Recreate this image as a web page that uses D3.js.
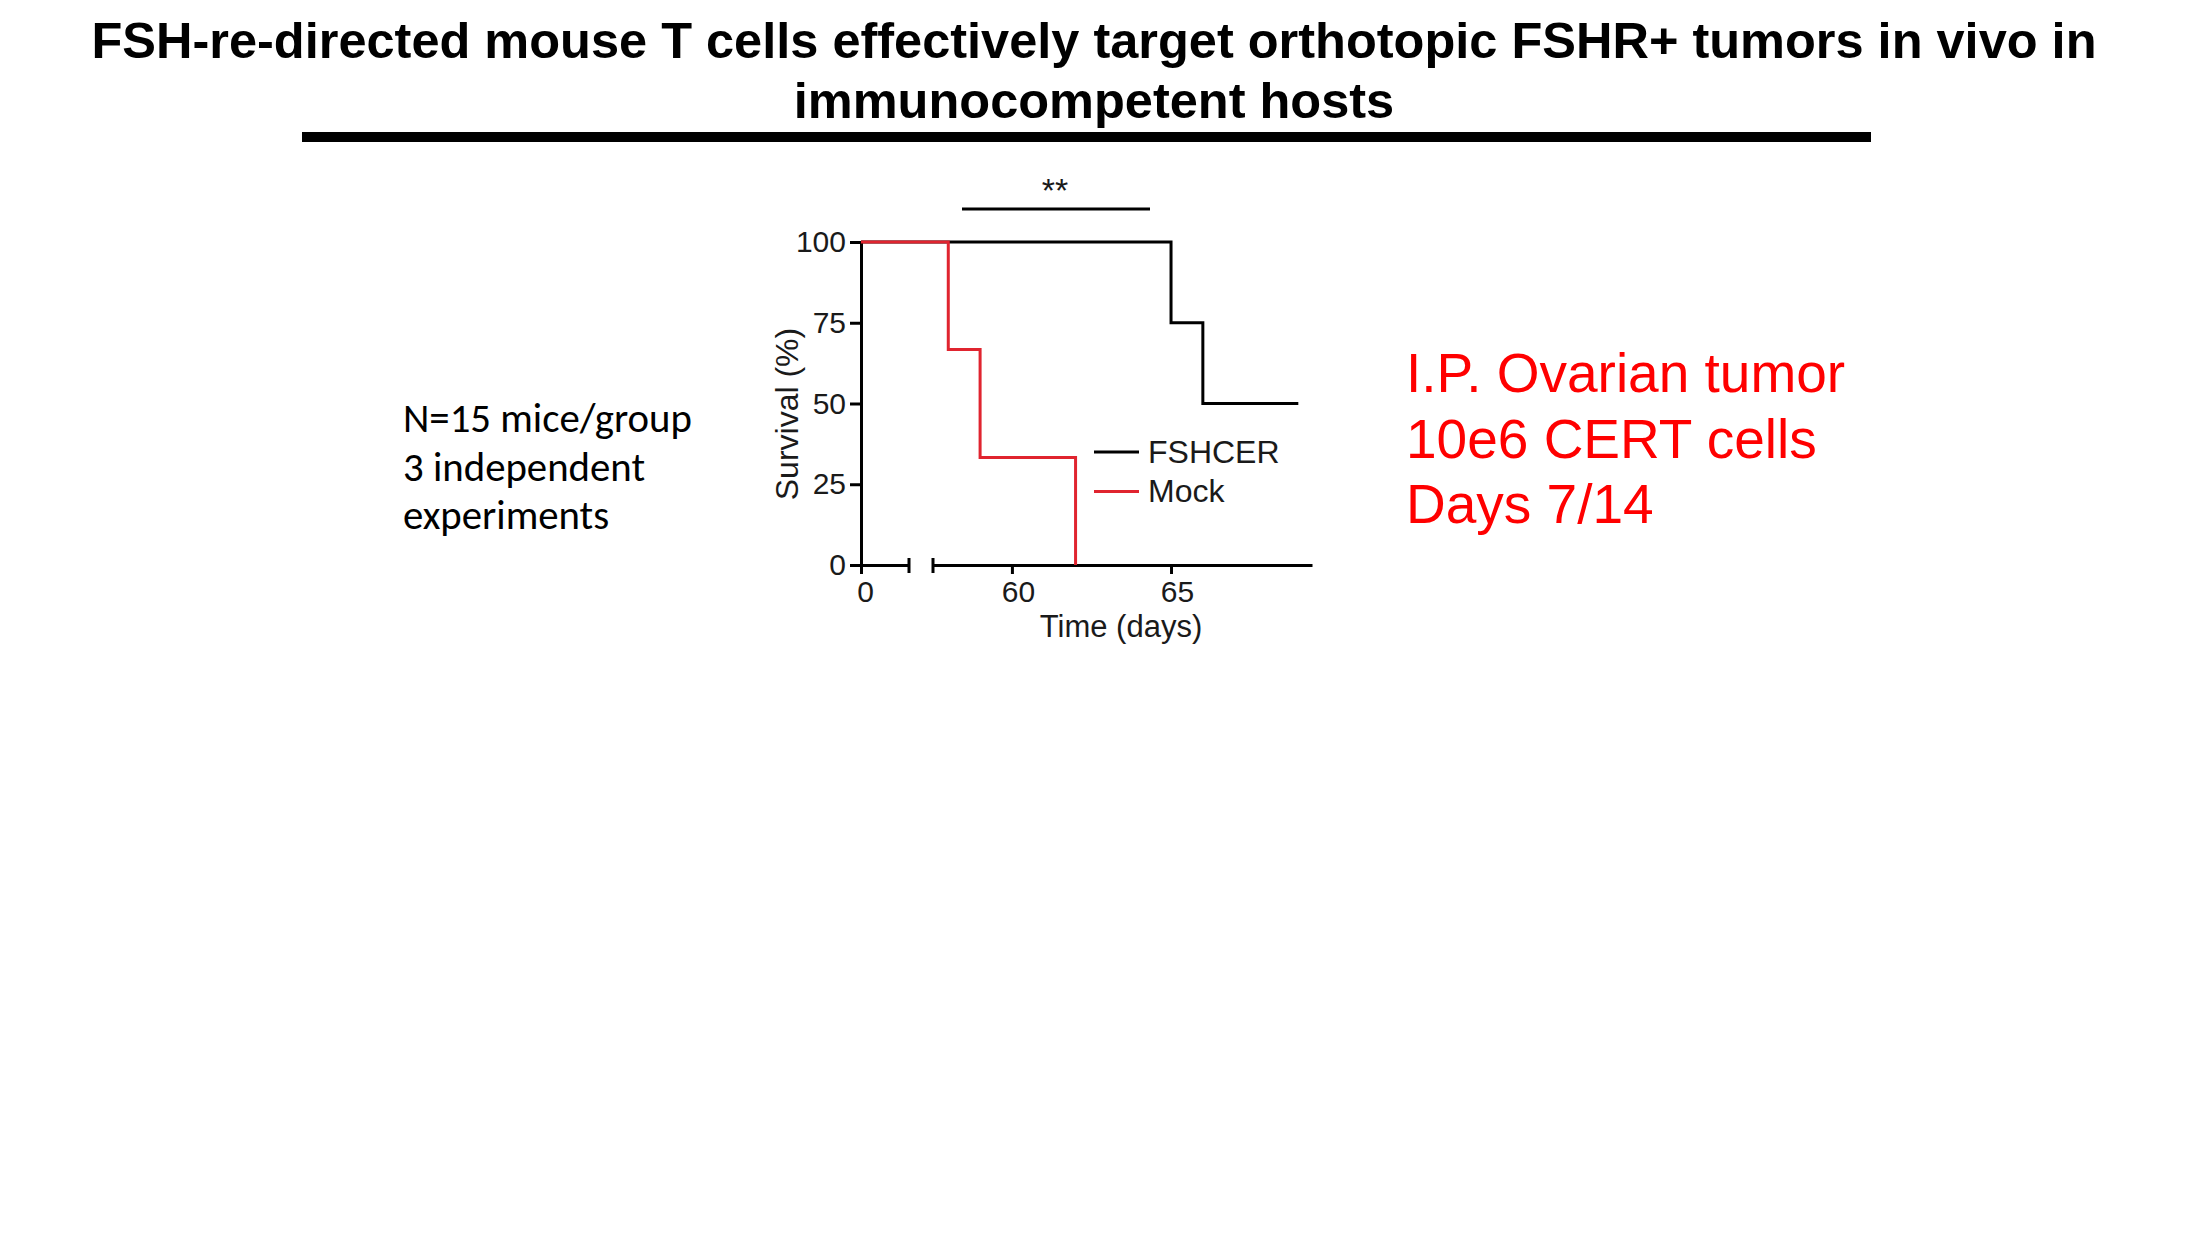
<!DOCTYPE html>
<html>
<head>
<meta charset="utf-8">
<script src="https://cdn.jsdelivr.net/npm/d3@7"></script>
<style>
  body { margin: 0; background: #fff; }
  svg { display: block; }
</style>
</head>
<body>
<svg id="slide"></svg>
<script>
// ---- data ----
const titleLines = [
  'FSH-re-directed mouse T cells effectively target orthotopic FSHR+ tumors in vivo in',
  'immunocompetent hosts'
];
const noteLines = ['N=15 mice/group', '3 independent', 'experiments'];
const conditionLines = ['I.P. Ovarian tumor', '10e6 CERT cells', 'Days 7/14'];

const seriesNames = ['FSHCER', 'Mock'];
const seriesColors = ['#000000', '#e0242f'];
const fshcerDays = [0, 65, 66, 69];
const fshcerSurvival = [100, 75, 50, 50];
const mockDays = [0, 58, 59, 62];
const mockSurvival = [100, 66.7, 33.3, 0];

const yTicks = [0, 25, 50, 75, 100];
const xTicksLeft = [0];
const xTicksRight = [60, 65];
const sigLabel = '**';

// ---- layout ----
const W = 2196, H = 1233;
const chartFont = "'Liberation Sans', Arial, Helvetica, sans-serif";

const svg = d3.select('#slide')
  .attr('width', W)
  .attr('height', H);

svg.append('rect').attr('width', W).attr('height', H).attr('fill', '#fff');

// title
const title = svg.append('g')
  .attr('font-family', chartFont)
  .attr('font-weight', 'bold')
  .attr('font-size', 50.5)
  .attr('text-anchor', 'middle');

title.selectAll('text')
  .data(titleLines)
  .join('text')
  .attr('x', 1094)
  .attr('y', (d, i) => 58 + i * 60)
  .text(d => d);

svg.append('rect')
  .attr('x', 302)
  .attr('y', 132)
  .attr('width', 1569)
  .attr('height', 10)
  .attr('fill', '#000');

// left note
const note = svg.append('g')
  .attr('font-family', "Carlito, Calibri, Lato, sans-serif")
  .attr('font-size', 31)
  .attr('fill', '#000');

note.selectAll('text')
  .data(noteLines)
  .join('text')
  .attr('x', 403)
  .attr('y', (d, i) => 432 + i * 48.5)
  .text(d => d);

// size the note so its first line is as wide as in the slide (289px)
const noteW = note.select('text').node().getComputedTextLength();
note.attr('font-size', 31 * 289 / noteW);

// red conditions
const cond = svg.append('g')
  .attr('font-family', chartFont)
  .attr('font-size', 55)
  .attr('fill', '#ff0000');

cond.selectAll('text')
  .data(conditionLines)
  .join('text')
  .attr('x', 1406)
  .attr('y', (d, i) => 392 + i * 65.5)
  .text(d => d);

// ---- survival plot ----
const plot = svg.append('g')
  .attr('font-family', chartFont);

const y = d3.scaleLinear().domain([0, 100]).range([565, 242]);

// broken time axis: short stub for day 0, then the 57.5 - 69.4 window
const xLeft = d3.scaleLinear().domain([0, 1.5]).range([861, 909]);
const xRight = d3.scaleLinear().domain([57.52, 69.43]).range([933, 1312]);
const x = d3.scaleLinear()
  .domain([xLeft.domain()[0], xLeft.domain()[1], xRight.domain()[0], xRight.domain()[1]])
  .range([xLeft.range()[0], xLeft.range()[1], xRight.range()[0], xRight.range()[1]]);

const axisStroke = 3;
const tickFont = 30;

function styleAxis(g, fontSize) {
  g.selectAll('path, line')
    .attr('stroke', '#000')
    .attr('stroke-width', axisStroke);
  g.selectAll('text')
    .attr('font-family', chartFont)
    .attr('font-size', fontSize)
    .attr('fill', '#1a1a1a');
}

plot.append('g')
  .attr('transform', `translate(${xLeft.range()[0]},0)`)
  .call(d3.axisLeft(y).tickValues(yTicks).tickSize(11).tickSizeOuter(0).tickPadding(4))
  .call(g => styleAxis(g, tickFont));

// the slide's day labels sit a few px right of their ticks
plot.append('g')
  .attr('transform', `translate(0,${y(0)})`)
  .call(d3.axisBottom(xLeft).tickValues(xTicksLeft).tickFormat(d3.format('d'))
    .tickSize(9).tickSizeOuter(0).tickPadding(7))
  .call(g => styleAxis(g, tickFont))
  .call(g => g.selectAll('text').attr('dx', 4));

plot.append('g')
  .attr('transform', `translate(0,${y(0)})`)
  .call(d3.axisBottom(xRight).tickValues(xTicksRight).tickFormat(d3.format('d'))
    .tickSize(9).tickSizeOuter(0).tickPadding(7))
  .call(g => styleAxis(g, tickFont))
  .call(g => g.selectAll('text').attr('dx', 6));

// end caps either side of the break
plot.selectAll('line.breakcap')
  .data([xLeft.range()[1], xRight.range()[0]])
  .join('line')
  .attr('class', 'breakcap')
  .attr('x1', d => d).attr('x2', d => d)
  .attr('y1', y(0) - 7).attr('y2', y(0) + 8)
  .attr('stroke', '#000')
  .attr('stroke-width', axisStroke);

// axis titles
plot.append('text')
  .attr('transform', `translate(798,414) rotate(-90)`)
  .attr('text-anchor', 'middle')
  .attr('font-size', 32)
  .attr('fill', '#1a1a1a')
  .text('Survival (%)');

plot.append('text')
  .attr('x', 1121)
  .attr('y', 637)
  .attr('text-anchor', 'middle')
  .attr('font-size', 31)
  .attr('fill', '#1a1a1a')
  .text('Time (days)');

// Kaplan-Meier steps
const series = [
  { name: seriesNames[0], color: seriesColors[0], pts: fshcerDays.map((d, i) => [d, fshcerSurvival[i]]) },
  { name: seriesNames[1], color: seriesColors[1], pts: mockDays.map((d, i) => [d, mockSurvival[i]]) }
];

const line = d3.line()
  .x(d => x(d[0]))
  .y(d => y(d[1]))
  .curve(d3.curveStepAfter);

plot.selectAll('path.km')
  .data(series)
  .join('path')
  .attr('class', 'km')
  .attr('fill', 'none')
  .attr('stroke', d => d.color)
  .attr('stroke-width', 3)
  .attr('d', d => line(d.pts));

// legend
const legend = plot.append('g');
const legendRows = legend.selectAll('g')
  .data(series)
  .join('g')
  .attr('transform', (d, i) => `translate(1094,${452 + i * 39.5})`);

legendRows.append('line')
  .attr('x1', 0).attr('x2', 45)
  .attr('stroke', d => d.color)
  .attr('stroke-width', 3);

legendRows.append('text')
  .attr('x', 54)
  .attr('y', 10.5)
  .attr('font-size', 32)
  .attr('fill', '#1a1a1a')
  .text(d => d.name);

// significance bar
plot.append('line')
  .attr('x1', 962).attr('x2', 1150)
  .attr('y1', 209).attr('y2', 209)
  .attr('stroke', '#000')
  .attr('stroke-width', 3);

plot.append('text')
  .attr('x', 1055)
  .attr('y', 202)
  .attr('text-anchor', 'middle')
  .attr('font-size', 34)
  .attr('fill', '#1a1a1a')
  .text(sigLabel);
</script>
</body>
</html>
